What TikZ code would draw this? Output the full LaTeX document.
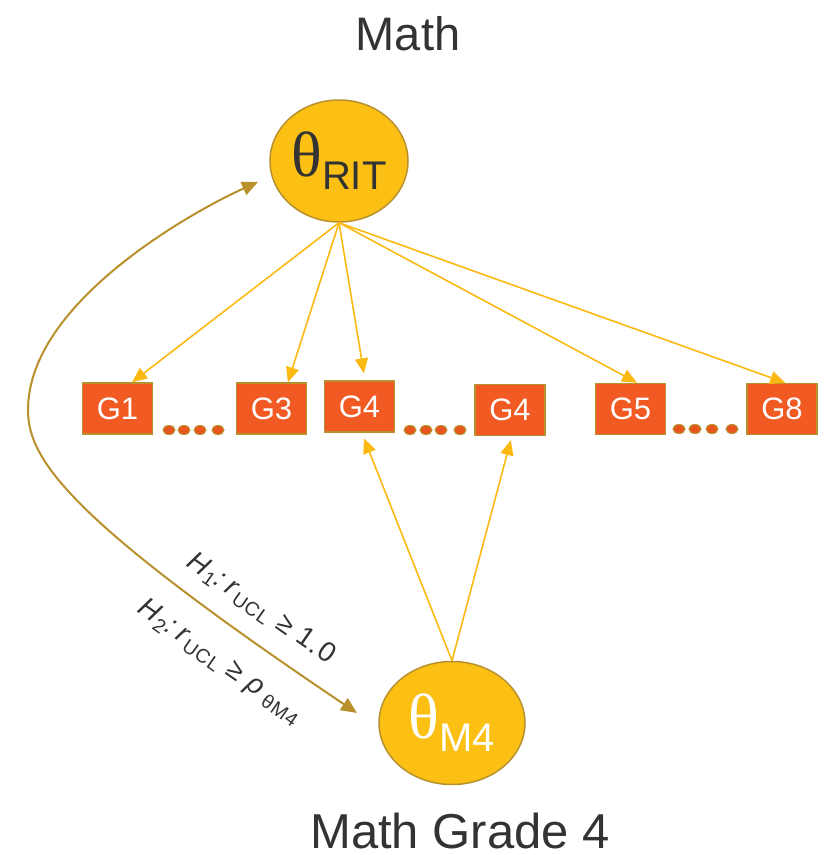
\documentclass[tikz,border=0pt]{standalone}
\usepackage{fontspec}
\setmainfont{Liberation Sans}
\newfontfamily\thf{Liberation Serif}
\usetikzlibrary{shapes.geometric,arrows.meta}
\definecolor{gold}{HTML}{FCBF13}
\definecolor{goldline}{HTML}{B8912F}
\definecolor{boxred}{HTML}{F15A22}
\definecolor{dotred}{HTML}{E8561F}
\definecolor{arrY}{HTML}{FBB913}
\definecolor{txt}{HTML}{333333}
\definecolor{brownarr}{HTML}{B8902C}
\begin{document}
\begin{tikzpicture}[x=1pt,y=-1pt,
  lat/.style={ellipse,fill=gold,draw=goldline,line width=1.5pt,inner sep=0pt},
  gbox/.style={rectangle,fill=boxred,draw=goldline,line width=1.5pt,minimum width=70pt,minimum height=51pt,inner sep=0pt,text=white,font=\fontsize{31}{31}\selectfont},
  gdot/.style={ellipse,fill=dotred,draw=goldline,line width=1pt,minimum width=12pt,minimum height=9pt,inner sep=0pt},
  yarr/.style={draw=arrY,line width=1.6pt,-{Triangle[length=15pt,width=13pt]}},
  barr/.style={draw=brownarr,line width=2pt,{Triangle[length=16pt,width=14pt]}-{Triangle[length=16pt,width=14pt]}},
  title/.style={text=txt,font=\fontsize{47}{47}\selectfont,anchor=base},
  hyp/.style={text=txt,font=\fontsize{28}{28}\selectfont\addfontfeature{LetterSpace=4},rotate=-35,inner sep=0pt}
]
\useasboundingbox (0,0) rectangle (823,855);
\node[title] (t1) at (408,50) {Math};
\node[title,font=\fontsize{49}{49}\selectfont] (t2) at (460,848) {Math Grade 4};

\node[lat,minimum width=138pt,minimum height=122pt,text=txt] (rit) at (339,161)
  {{\thf\fontsize{64}{64}\selectfont θ}{\fontsize{40}{40}\selectfont\raisebox{-13pt}{RIT}}};
\node[lat,minimum width=146pt,minimum height=123pt,text=white] (m4) at (452,723)
  {{\thf\fontsize{64}{64}\selectfont θ}{\fontsize{40}{40}\selectfont\raisebox{-13pt}{M4}}};

\node[gbox] (g1) at (117.5,408.5) {G1};
\node[gbox] (g3) at (271.5,408.5) {G3};
\node[gbox] (g4a) at (359.5,406.5) {G4};
\node[gbox] (g4b) at (510,410) {G4};
\node[gbox] (g5) at (630.5,409) {G5};
\node[gbox] (g8) at (782,409) {G8};

\foreach \x [count=\i] in {169,184,200,218} \node[gdot] (da\i) at (\x,430) {};
\foreach \x [count=\i] in {410,426,441,460} \node[gdot] (db\i) at (\x,430) {};
\foreach \x [count=\i] in {679,695,712,732} \node[gdot] (dc\i) at (\x,429) {};

\draw[yarr] (rit.south) -- (g1.61);
\draw[yarr] (rit.south) -- (g3.58);
\draw[yarr,shorten >=7pt] (rit.south) -- (g4a.78);
\draw[yarr] (rit.south) -- (g5.76);
\draw[yarr] (rit.south) -- (g8.83);
\draw[yarr,shorten >=6pt] (m4.north) -- (g4a.-85);
\draw[yarr,shorten >=4pt] (m4.north) -- (g4b.-86);

\coordinate (ca) at (258,182);
\coordinate (cb) at (357,713);
\draw[barr] (ca) .. controls (200,208) and (28,300) .. (28,410)
  .. controls (28,460) and (70,520) .. (cb);

\node[hyp] (h1) at (261,609) {\textit{H}\textsubscript{1}\textit{:}\,\textit{r}\textsubscript{UCL} ≥ 1.0};
\node[hyp] (h2) at (220,662) {\textit{H}\textsubscript{2}\textit{:}\,\textit{r}\textsubscript{UCL} ≥ \textit{ρ}\,\textsubscript{θM4}};
\end{tikzpicture}
\end{document}
